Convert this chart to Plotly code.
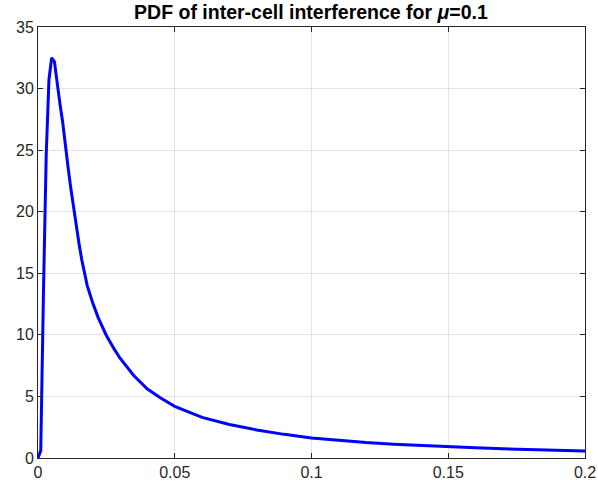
import plotly.graph_objects as go

# interference value (x) and PDF (y)
x_vals = [0.0, 0.001, 0.002, 0.003, 0.004, 0.005, 0.006, 0.007, 0.008, 0.009,
          0.010, 0.011, 0.012, 0.013, 0.014, 0.015, 0.016, 0.017, 0.018, 0.019,
          0.020, 0.022, 0.025, 0.028, 0.030, 0.035, 0.040, 0.045, 0.050, 0.060,
          0.070, 0.080, 0.090, 0.100, 0.110, 0.120, 0.130, 0.140, 0.150, 0.160,
          0.170, 0.180, 0.190, 0.200]
pdf_vals = [0.0, 0.6, 13.5, 24.6, 30.7, 32.5, 32.2, 30.3, 28.8, 27.3,
            25.3, 23.6, 21.9, 20.3, 18.9, 17.4, 16.1, 14.9, 14.0, 13.3,
            12.6, 11.4, 9.95, 8.8, 8.1, 6.7, 5.6, 4.85, 4.2, 3.3,
            2.72, 2.28, 1.92, 1.63, 1.42, 1.25, 1.12, 1.01, 0.92, 0.83,
            0.75, 0.68, 0.61, 0.56]

x_ticks = [0, 0.05, 0.1, 0.15, 0.2]
x_tick_labels = ["0", "0.05", "0.1", "0.15", "0.2"]
y_ticks = [0, 5, 10, 15, 20, 25, 30, 35]
y_tick_labels = ["0", "5", "10", "15", "20", "25", "30", "35"]

title_text = "<b>PDF of inter-cell interference for <i>μ</i>=0.1</b>"

axis_color = "#262626"
grid_color = "#e3e3e3"
font_family = "Liberation Sans, Arial, Helvetica, sans-serif"

fig = go.Figure()
fig.add_trace(go.Scatter(
    x=x_vals, y=pdf_vals, mode="lines",
    line=dict(color="#0000ff", width=3),
    showlegend=False,
))

common_axis = dict(
    showline=True, linecolor=axis_color, linewidth=1, mirror="allticks",
    ticks="inside", ticklen=5, tickwidth=1, tickcolor=axis_color,
    showgrid=True, gridcolor=grid_color, gridwidth=1,
    zeroline=False, automargin=False,
    tickfont=dict(family=font_family, size=16, color=axis_color),
)

fig.update_xaxes(range=[0, 0.2], tickvals=x_ticks, ticktext=x_tick_labels, **common_axis)
fig.update_yaxes(range=[0, 35], tickvals=y_ticks, ticktext=y_tick_labels, **common_axis)

fig.update_layout(
    width=598, height=489,
    margin=dict(l=38, r=13, t=27, b=31, autoexpand=False),
    paper_bgcolor="white", plot_bgcolor="white",
    title=dict(text=title_text, x=0.52, xanchor="center", y=0.975, yanchor="middle",
               font=dict(family=font_family, size=19.5, color="black")),
)

fig.write_html("out.html")
